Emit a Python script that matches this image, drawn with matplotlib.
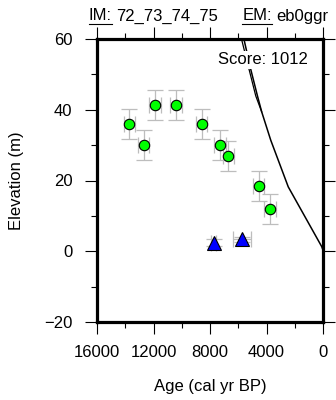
import numpy as np
import matplotlib
matplotlib.use("Agg")
from matplotlib import pyplot as plt
from matplotlib.ticker import MultipleLocator
from matplotlib.lines import Line2D

plt.rcParams['font.family'] = ['Liberation Sans', 'DejaVu Sans']

# green circles (index points)
age_pts = [13700, 12700, 11900, 10400, 8600, 7300, 6700, 4550, 3750]
elev_pts = [36.0, 30.0, 41.3, 41.3, 36.0, 30.0, 27.0, 18.5, 12.0]
age_err = [400, 400, 400, 400, 400, 400, 400, 400, 400]
elev_err = [4.3, 4.3, 4.3, 4.3, 4.3, 4.3, 4.3, 4.3, 4.3]

# blue triangles (limiting points)
age_tri = [7750, 5750]
elev_tri = [2.4, 3.4]
age_tri_err = [150, 620]
elev_tri_err = [1.0, 0.7]

# model curves
curve_age = [5685, 5600, 5120, 4640, 4340, 3700, 2460, 90, 0]
curve_elev = [61.5, 60.0, 51.5, 43.9, 39.4, 31.4, 18.2, 1.3, 0.3]
curve2_age = [5860, 5770, 5240, 4760, 4340]
curve2_elev = [61.5, 60.0, 51.5, 43.9, 39.4]

xticks = [16000, 12000, 8000, 4000, 0]
yticks = [60, 40, 20, 0, -20]

fig = plt.figure(figsize=(3.36, 4.0), dpi=100)
ax = fig.add_axes([97/336, 1-322/400, 226/336, 283/400])

ax.plot(curve_age, curve_elev, color='black', lw=1.1, zorder=2)
ax.plot(curve2_age, curve2_elev, color='black', lw=0.9, zorder=2)

ax.errorbar(age_pts, elev_pts, xerr=age_err, yerr=elev_err, fmt='none',
            ecolor='#bdbdbd', elinewidth=0.9, capsize=5.5, capthick=0.9, zorder=3)
ax.plot(age_pts, elev_pts, 'o', ms=7.5, mfc='#00ff00', mec='black', mew=0.8, zorder=4)

ax.errorbar(age_tri, elev_tri, xerr=age_tri_err, yerr=elev_tri_err, fmt='none',
            ecolor='#bdbdbd', elinewidth=0.9, capsize=5.5, capthick=0.9, zorder=3)
ax.plot(age_tri, elev_tri, '^', ms=9.5, mfc='#0000ff', mec='black', mew=0.8, zorder=4)

ax.set_xlim(16000, 0)
ax.set_ylim(-20, 60)
ax.set_xticks(xticks)
ax.set_xticklabels([str(t) for t in xticks])
ax.set_yticks(yticks)
ax.set_yticklabels([str(t).replace('-', '\u2212') for t in yticks])
ax.xaxis.set_minor_locator(MultipleLocator(2000))
ax.yaxis.set_minor_locator(MultipleLocator(10))
ax.tick_params(which='both', direction='out', top=True, right=True, width=0.8, labelsize=12)
ax.tick_params(which='major', length=8.6)
ax.tick_params(which='minor', length=4.5)
ax.tick_params(axis='x', pad=8)
ax.tick_params(axis='y', pad=9)
for s in ax.spines.values():
    s.set_linewidth(2.3)

ax.text(0.934, 0.926, 'Score: 1012', transform=ax.transAxes, ha='right', va='center',
        fontsize=12, zorder=5, bbox=dict(facecolor='white', edgecolor='none', pad=1))

fig.text(17/336, 1-180.5/400, 'Elevation (m)', rotation=90, ha='center', va='center', fontsize=12)
fig.text(210/336, 1-386.5/400, 'Age (cal yr BP)', ha='center', va='center', fontsize=12)

# header with underlined labels
ty = 1-16/400
t1 = fig.text(89/336, ty, 'IM:', ha='left', va='center', fontsize=12)
t3 = fig.text(328/336, ty, 'eb0ggr', ha='right', va='center', fontsize=12)
fig.canvas.draw()
r = fig.canvas.get_renderer()
b1 = t1.get_window_extent(r)
fig.text(b1.x1/336 + 4/336, ty, '72_73_74_75', ha='left', va='center', fontsize=12)
b3 = t3.get_window_extent(r)
t2 = fig.text(b3.x0/336 - 4/336, ty, 'EM:', ha='right', va='center', fontsize=12)
fig.canvas.draw()
b2 = t2.get_window_extent(r)
uy = 1-24/400
for b in (b1, b2):
    fig.add_artist(Line2D([b.x0/336, b.x1/336], [uy, uy], color='black', lw=0.8,
                          transform=fig.transFigure))

fig.savefig('out.png', dpi=100)
